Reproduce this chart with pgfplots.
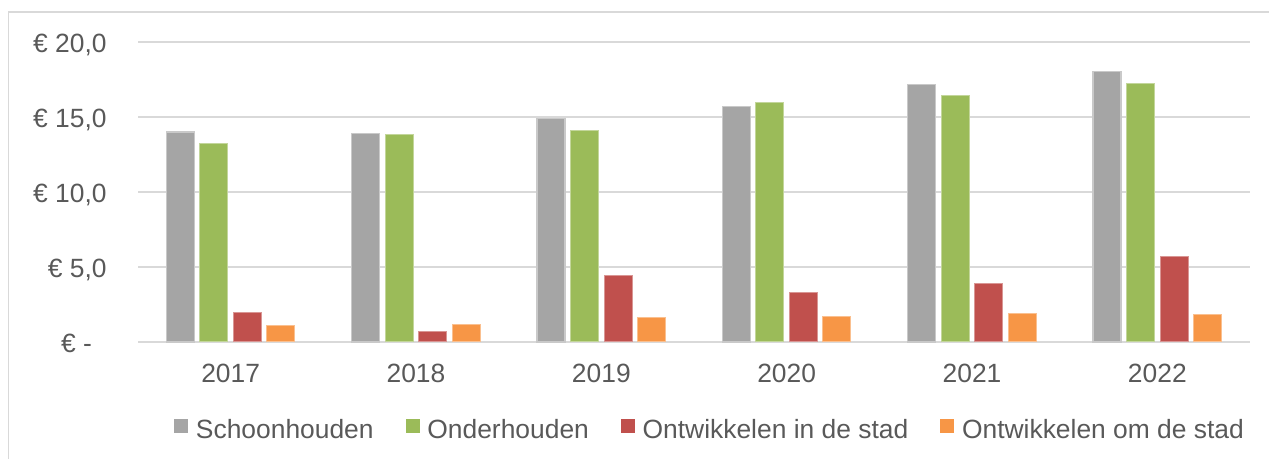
\documentclass[border=0pt]{standalone}
\usepackage{fontspec}
\setmainfont{Liberation Sans}
\usepackage{pgfplots}
\pgfplotsset{compat=1.18}
\definecolor{cgray}{HTML}{A5A5A5}
\definecolor{cgreen}{HTML}{9BBB59}
\definecolor{cred}{HTML}{C0504D}
\definecolor{corange}{HTML}{F79646}
\definecolor{txt}{HTML}{595959}
\definecolor{gridc}{HTML}{D9D9D9}
\begin{document}
\begin{tikzpicture}[x=1pt,y=1pt]
\useasboundingbox (0,0) rectangle (634.5,229.5);
\draw[gridc, line width=0.8pt] (4.2,-10) -- (4.2,223.6) -- (650,223.6);
\begin{axis}[
  at={(69pt,58.5pt)}, anchor=south west,
  scale only axis, width=556pt, height=150.15pt,
  xmin=-0.5, xmax=5.5, ymin=0, ymax=20,
  ybar=2.75pt, bar width=14pt,
  axis line style={draw=none},
  major tick length=0pt,
  ymajorgrids, grid style={gridc, line width=1pt},
  xtick={0,1,2,3,4,5},
  xticklabels={2017,2018,2019,2020,2021,2022},
  ytick={0,5,10,15,20},
  yticklabels={{€ -\hphantom{0}},{€ 5,0},{€ 10,0},{€ 15,0},{€ 20,0}},
  xticklabel style={font=\fontsize{13.2}{15}\selectfont, text=txt, anchor=base, inner sep=0pt, yshift=-20.5pt},
  yticklabel style={font=\fontsize{13.2}{15}\selectfont, text=txt, anchor=base east, inner sep=0pt, xshift=-15.5pt, yshift=-5.3pt},
  clip=false,
  legend columns=4,
  legend style={at={(0.5135,-0.293)}, anchor=center, draw=none, fill=none,
    font=\fontsize{13.2}{15}\selectfont, text=txt,
    nodes={inner sep=0pt},
    /tikz/every even column/.append style={column sep=16pt}},
  legend image code/.code={\path[draw=none,fill=none] (0pt,0pt) -- (10.9pt,0pt); \fill[#1,draw=none] (0pt,-1.4pt) rectangle (7pt,5.6pt);},
]
\addplot[fill=cgray, draw=cgray!60!white, line width=0.7pt] coordinates {(0,13.98) (1,13.89) (2,14.87) (3,15.69) (4,17.13) (5,18.00)};
\addplot[fill=cgreen, draw=cgreen!60!white, line width=0.5pt] coordinates {(0,13.24) (1,13.85) (2,14.11) (3,15.93) (4,16.40) (5,17.24)};
\addplot[fill=cred, draw=cred!60!white, line width=0.5pt] coordinates {(0,1.95) (1,0.71) (2,4.45) (3,3.29) (4,3.87) (5,5.67)};
\addplot[fill=corange, draw=corange!60!white, line width=0.5pt] coordinates {(0,1.09) (1,1.15) (2,1.60) (3,1.67) (4,1.89) (5,1.80)};
\legend{Schoonhouden, Onderhouden, Ontwikkelen in de stad, Ontwikkelen om de stad}
\end{axis}
\end{tikzpicture}
\end{document}
